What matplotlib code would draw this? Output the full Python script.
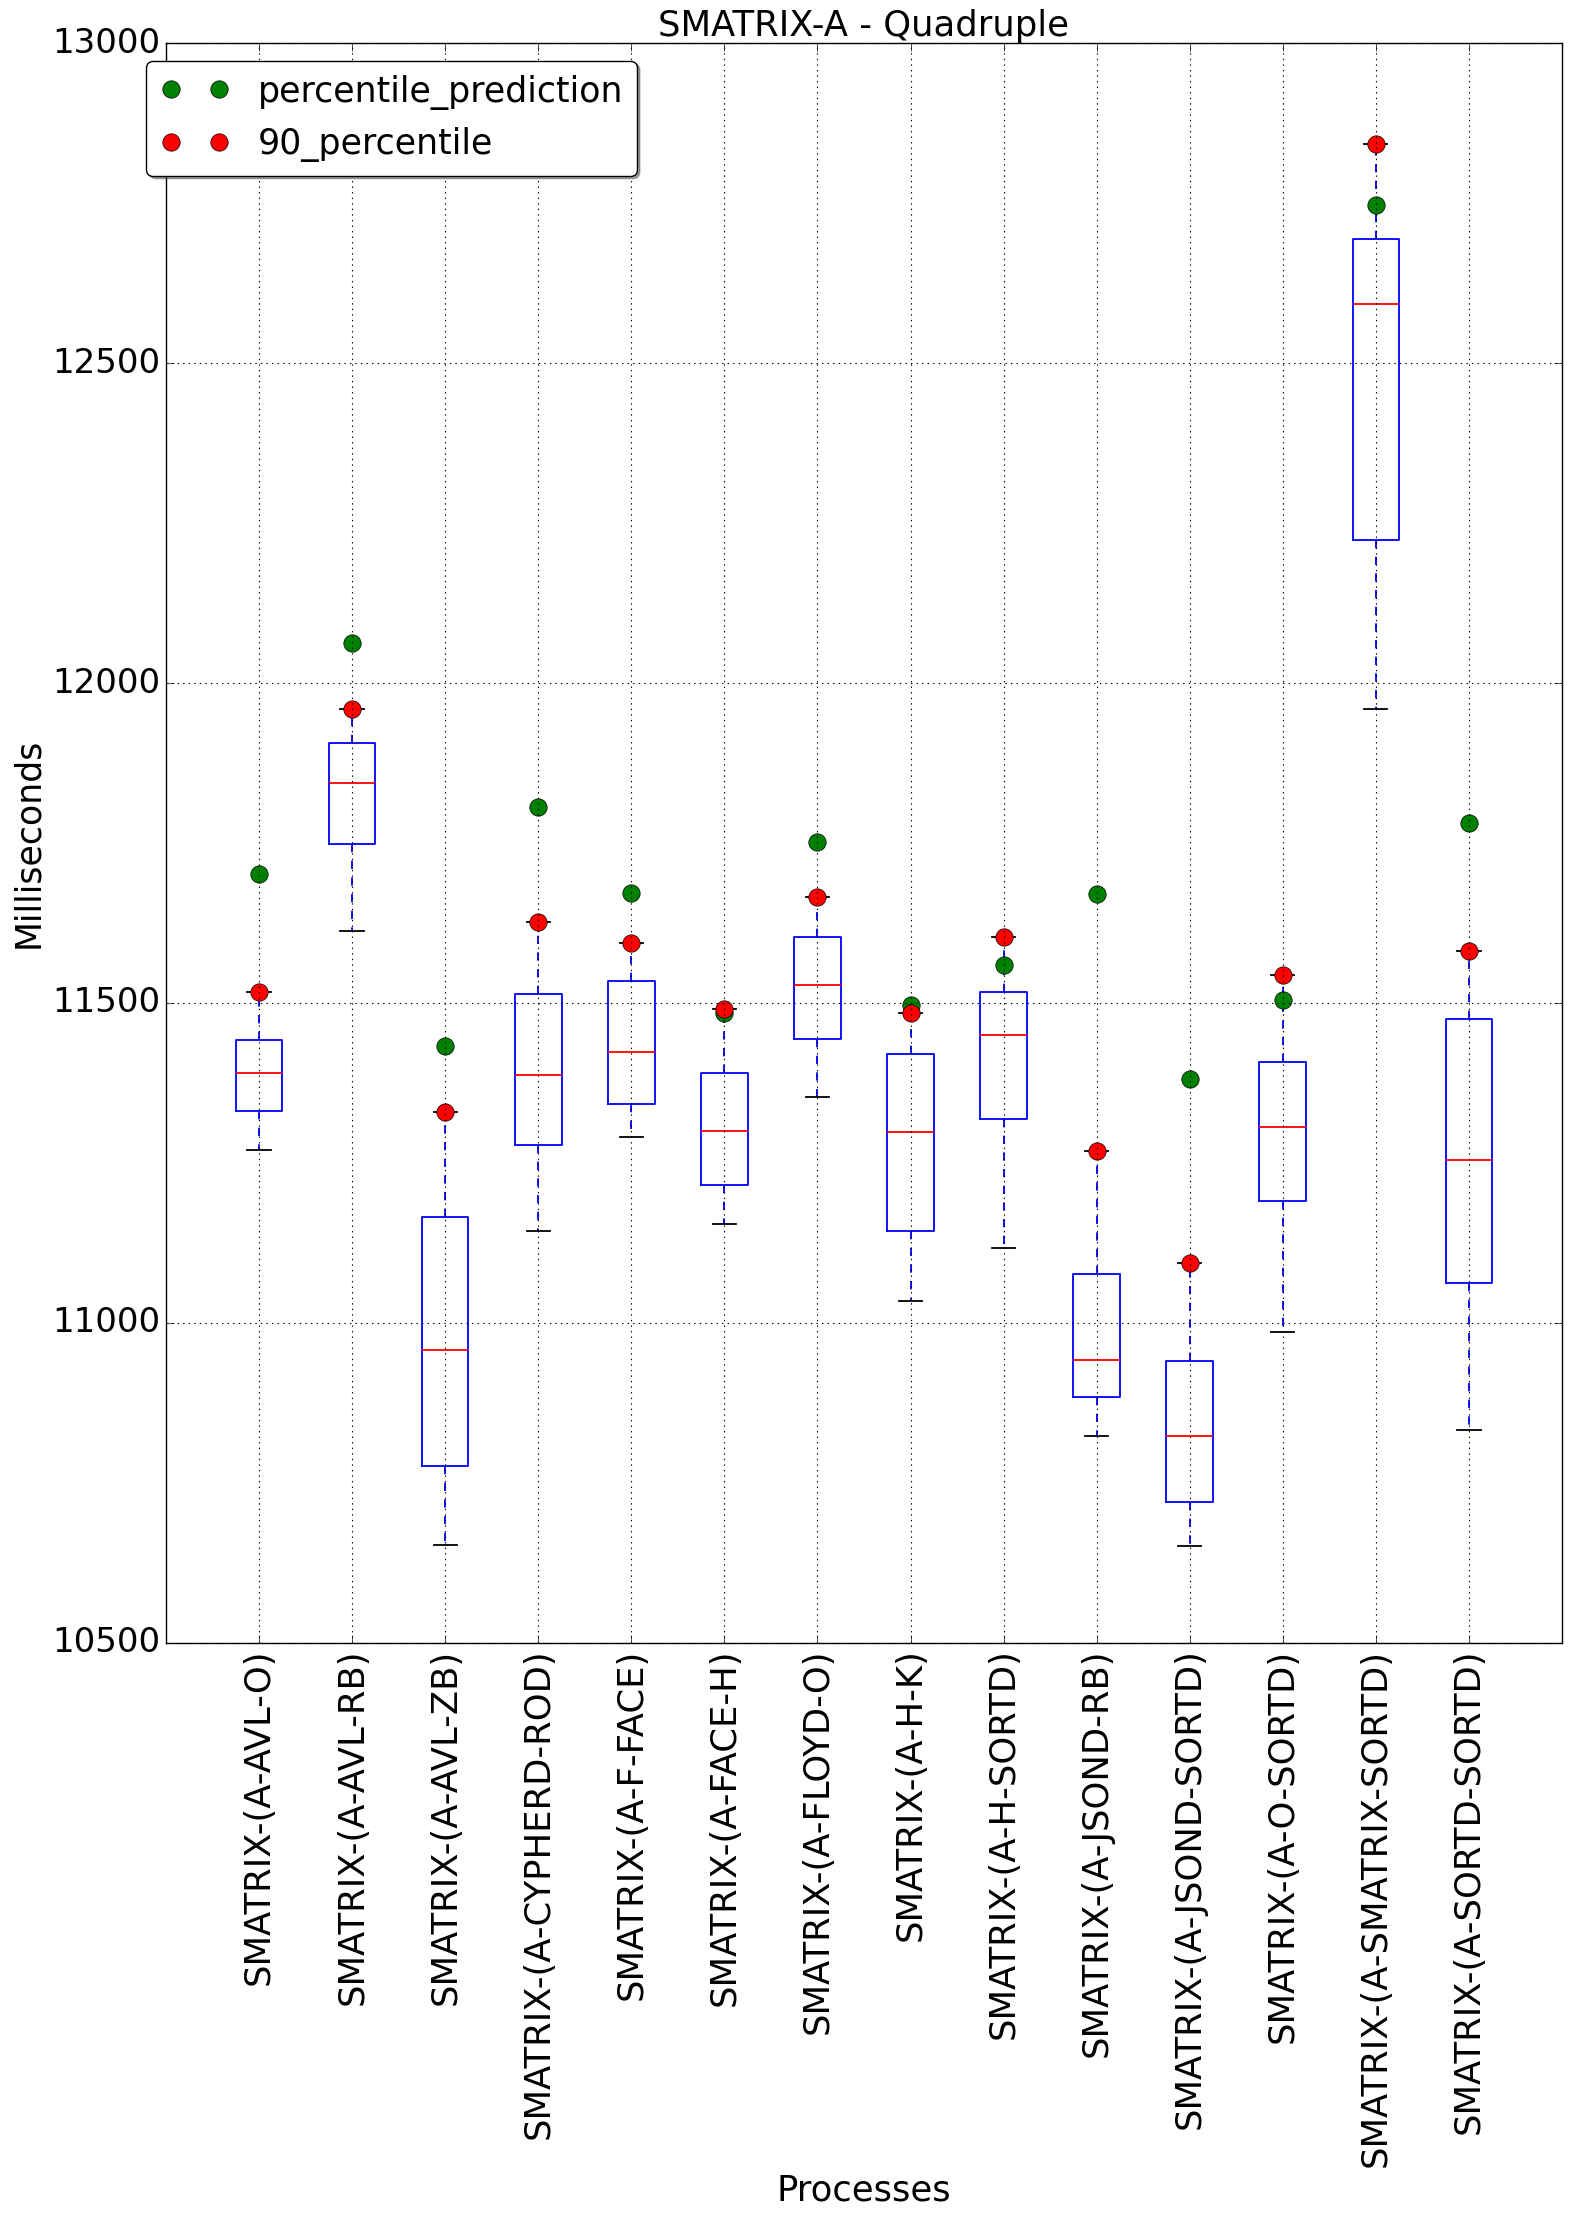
import matplotlib
matplotlib.use("Agg")
import matplotlib.pyplot as plt

plt.style.use("classic")

categories = [
    "SMATRIX-(A-AVL-O)", "SMATRIX-(A-AVL-RB)", "SMATRIX-(A-AVL-ZB)",
    "SMATRIX-(A-CYPHERD-ROD)", "SMATRIX-(A-F-FACE)", "SMATRIX-(A-FACE-H)",
    "SMATRIX-(A-FLOYD-O)", "SMATRIX-(A-H-K)", "SMATRIX-(A-H-SORTD)",
    "SMATRIX-(A-JSOND-RB)", "SMATRIX-(A-JSOND-SORTD)", "SMATRIX-(A-O-SORTD)",
    "SMATRIX-(A-SMATRIX-SORTD)", "SMATRIX-(A-SORTD-SORTD)",
]
whisker_low = [11271, 11612, 10653, 11144, 11291, 11154, 11353, 11035, 11117, 10823, 10651, 10986, 11959, 10832]
q1 = [11331, 11748, 10777, 11278, 11342, 11216, 11444, 11143, 11318, 10885, 10721, 11190, 12224, 11062]
median = [11391, 11844, 10958, 11388, 11423, 11300, 11528, 11298, 11450, 10942, 10823, 11307, 12593, 11254]
q3 = [11442, 11906, 11165, 11514, 11534, 11391, 11603, 11420, 11517, 11077, 10940, 11408, 12694, 11475]
percentile_90 = [11517, 11959, 11330, 11627, 11594, 11490, 11665, 11484, 11603, 11269, 11093, 11543, 12842, 11581]
percentile_prediction = [11702, 12063, 11433, 11806, 11672, 11484, 11751, 11497, 11559, 11671, 11382, 11504, 12747, 11782]

positions = list(range(1, len(categories) + 1))

fig = plt.figure(figsize=(15.72, 22.19), dpi=100, facecolor="white")
ax = fig.add_axes([0.1056, 0.2596, 0.888, 0.721])
ax.set_facecolor("white")

stats = []
for i in range(len(categories)):
    stats.append(dict(med=median[i], q1=q1[i], q3=q3[i],
                      whislo=whisker_low[i], whishi=percentile_90[i], fliers=[]))
ax.bxp(stats, positions=positions, widths=0.5, showfliers=False,
       boxprops=dict(color="b", linewidth=1.3),
       whiskerprops=dict(color="b", linestyle="--", linewidth=1.3),
       capprops=dict(color="k", linewidth=1.3),
       medianprops=dict(color="r", linewidth=1.3))

ax.plot(positions, percentile_prediction, "o", color="green", markersize=12.5,
        markeredgecolor="k", markeredgewidth=0.5, label="percentile_prediction")
ax.plot(positions, percentile_90, "o", color="red", markersize=12.5,
        markeredgecolor="k", markeredgewidth=0.5, label="90_percentile")

ax.set_xlim(0, len(categories) + 1)
ax.set_ylim(10500, 13000)
ax.set_yticks([10500, 11000, 11500, 12000, 12500, 13000])
ax.set_xticks(positions)
ax.set_xticklabels(categories, rotation=90, fontsize=25.5)
ax.tick_params(axis="y", labelsize=24.5)
ax.tick_params(axis="both", which="major", length=6)
ax.grid(True, color="k", linestyle=":", linewidth=0.8)

ax.set_title("SMATRIX-A - Quadruple", fontsize=25.5)
ax.set_xlabel("Processes", fontsize=25.5)
ax.set_ylabel("Milliseconds", fontsize=25)

leg = ax.legend(loc="upper left", bbox_to_anchor=(-0.014, 0.989), borderaxespad=0,
                numpoints=2, fancybox=True, shadow=True, fontsize=25)
leg.get_frame().set_facecolor("white")

fig.savefig("out.png", dpi=100, facecolor="white")
